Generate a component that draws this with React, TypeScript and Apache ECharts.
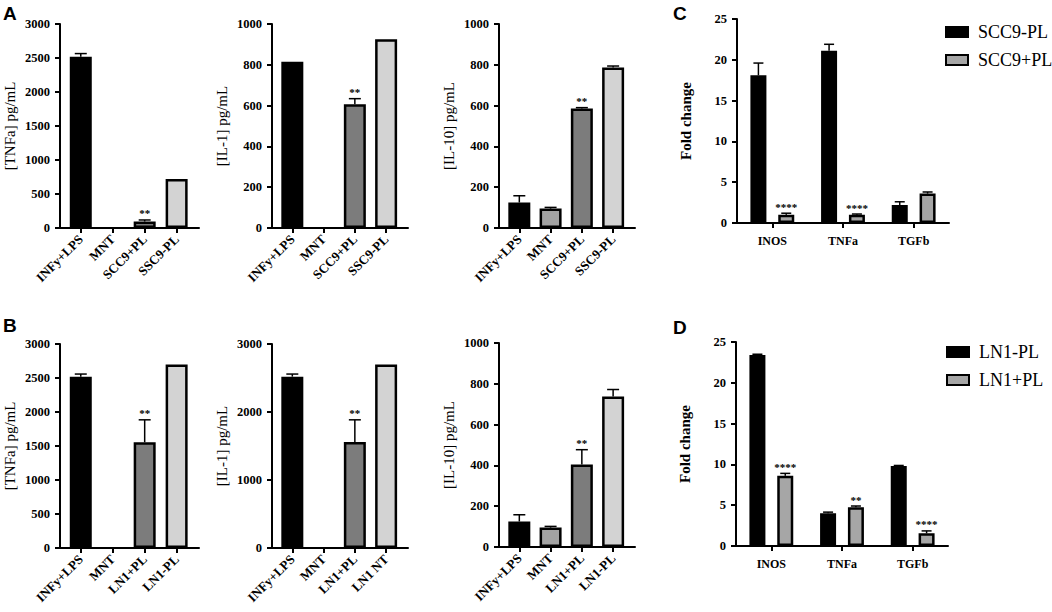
import React, { useEffect, useRef } from "react";
import * as echarts from "echarts";

// ---------- data ----------
const catsA = ["INFy+LPS", "MNT", "SCC9+PL", "SSC9-PL"];
const catsB1 = ["INFy+LPS", "MNT", "LN1+PL", "LN1-PL"];
const catsB2 = ["INFy+LPS", "MNT", "LN1+PL", "LN1 NT"];

const tnfA = [2520, 0, 95, 720];
const tnfAErr = [45, 0, 23, 0];
const il1A = [815, 0, 607, 925];
const il1AErr = [0, 0, 27, 0];
const il10A = [125, 95, 586, 787];
const il10AErr = [33, 6, 4, 7];

const tnfB = [2520, 0, 1555, 2700];
const tnfBErr = [38, 0, 330, 0];
const il1B = [2520, 0, 1560, 2700];
const il1BErr = [38, 0, 325, 0];
const il10B = [125, 95, 405, 738];
const il10BErr = [33, 6, 72, 34];

const sigSmall = ["", "", "**", ""];

const genes = ["INOS", "TNFa", "TGFb"];
const scc9Minus = [18.1, 21.1, 2.2];
const scc9MinusErr = [1.5, 0.8, 0.4];
const scc9Plus = [1.0, 1.0, 3.6];
const scc9PlusErr = [0.2, 0.1, 0.2];
const sigC = ["****", "****", ""];

const ln1Minus = [23.4, 4.0, 9.8];
const ln1MinusErr = [0.1, 0.15, 0.07];
const ln1Plus = [8.6, 4.75, 1.55];
const ln1PlusErr = [0.3, 0.15, 0.3];
const sigD = ["****", "**", "****"];

const yNames = ["[TNFa] pg/mL", "[IL-1] pg/mL", "[IL-10] pg/mL", "[TNFa] pg/mL", "[IL-1] pg/mL", "[IL-10] pg/mL"];
const yMax = [3000, 1000, 1000, 3000, 3000, 1000];
const yInterval = [500, 200, 200, 500, 1000, 200];

// ---------- styles ----------
const SERIF = "'Liberation Serif', 'Times New Roman', serif";
const SANS = "'Liberation Sans', Arial, sans-serif";
const smallColors = ["#000000", "#a3a3a3", "#7c7c7c", "#d3d3d3"];

const smallGrids = [
  { left: 60, top: 24, width: 139, height: 204 },
  { left: 272, top: 24, width: 136, height: 204 },
  { left: 499, top: 24, width: 136, height: 204 },
  { left: 60, top: 344, width: 139, height: 204 },
  { left: 272, top: 344, width: 136, height: 204 },
  { left: 499, top: 343, width: 136, height: 204 },
];
const bigGrids = [
  { left: 737, top: 19, width: 212, height: 204 },
  { left: 736, top: 342, width: 212, height: 204 },
];

const BAR_W = 16;
const BAR_GAP = 0.74;
const GROUP_OFF = (BAR_W + BAR_W * BAR_GAP) / 2;

function errRender(sig: string[], capHalf: number, dx: number) {
  return (params: any, api: any) => {
    const x = api.value(0);
    const y = api.value(1);
    const e = api.value(2);
    const base = api.coord([x, y]);
    const top = api.coord([x, y + e]);
    const cx = base[0] + dx;
    const children: any[] = [];
    if (e > 0) {
      children.push({
        type: "line",
        shape: { x1: cx, y1: base[1], x2: cx, y2: top[1] },
        style: { stroke: "#000", lineWidth: 1.5 },
      });
      children.push({
        type: "line",
        shape: { x1: cx - capHalf, y1: top[1], x2: cx + capHalf, y2: top[1] },
        style: { stroke: "#000", lineWidth: 1.5 },
      });
    }
    const s = sig[params.dataIndex];
    if (s) {
      children.push({
        type: "text",
        x: cx,
        y: top[1] - 1,
        style: {
          text: s,
          fill: "#000000",
          stroke: "none",
          lineWidth: 0,
          fontSize: 11,
          fontWeight: "bold",
          fontFamily: SERIF,
          align: "center",
          verticalAlign: "bottom",
        },
      });
    }
    return { type: "group", children };
  };
}

export default function App() {
  const ref = useRef<HTMLDivElement>(null);

  useEffect(() => {
    document.body.style.margin = "0";
    if (!ref.current) return;
    const chart = echarts.init(ref.current, null, { renderer: "svg" });

    const smallCats = [catsA, catsA, catsA, catsB1, catsB2, catsB1];
    const smallVals = [tnfA, il1A, il10A, tnfB, il1B, il10B];
    const smallErrs = [tnfAErr, il1AErr, il10AErr, tnfBErr, il1BErr, il10BErr];

    const grid: any[] = [...smallGrids, ...bigGrids];
    const xAxis: any[] = [];
    const yAxis: any[] = [];
    const series: any[] = [];

    const axisLineStyle = { color: "#000", width: 2 };
    const yLabel = {
      color: "#000",
      fontSize: 12.5,
      fontWeight: "bold",
      fontFamily: SERIF,
      margin: 10,
      formatter: (v: number) => String(v),
    };

    smallCats.forEach((cats, g) => {
      xAxis.push({
        type: "value",
        gridIndex: g,
        min: -0.65,
        max: 3.7,
        splitLine: { show: false },
        axisLine: { show: true, onZero: false, lineStyle: axisLineStyle },
        axisTick: { show: true, customValues: [0, 1, 2, 3], length: 5, lineStyle: { color: "#000", width: 2 } },
        axisLabel: {
          customValues: [0, 1, 2, 3],
          formatter: (v: number) => cats[Math.round(v)],
          rotate: 45,
          color: "#000",
          fontSize: 13,
          fontWeight: "bold",
          fontFamily: SERIF,
          margin: 9,
        },
      });
      yAxis.push({
        type: "value",
        gridIndex: g,
        min: 0,
        max: yMax[g],
        interval: yInterval[g],
        splitLine: { show: false },
        axisLine: { show: true, onZero: false, lineStyle: axisLineStyle },
        axisTick: { show: true, length: 5, lineStyle: { color: "#000", width: 2 } },
        axisLabel: yLabel,
        name: yNames[g],
        nameLocation: "middle",
        nameGap: 43,
        nameTextStyle: { color: "#000", fontSize: 15, fontFamily: SERIF },
      });
      series.push({
        type: "bar",
        xAxisIndex: g,
        yAxisIndex: g,
        barWidth: 22,
        data: smallVals[g].map((v, i) => ({
          value: [i, v],
          itemStyle: { color: smallColors[i], borderColor: "#000", borderWidth: v === 0 ? 0 : 2.5 },
        })),
      });
      series.push({
        type: "custom",
        xAxisIndex: g,
        yAxisIndex: g,
        z: 5,
        clip: false,
        itemStyle: { color: "#000" },
        renderItem: errRender(sigSmall, 6, 0),
        data: smallVals[g].map((v, i) => [i, v, smallErrs[g][i]]),
      });
    });

    const bigSets = [
      { names: ["SCC9-PL", "SCC9+PL"], neg: scc9Minus, negErr: scc9MinusErr, pos: scc9Plus, posErr: scc9PlusErr, sig: sigC },
      { names: ["LN1-PL", "LN1+PL"], neg: ln1Minus, negErr: ln1MinusErr, pos: ln1Plus, posErr: ln1PlusErr, sig: sigD },
    ];
    bigSets.forEach((set, k) => {
      const g = 6 + k;
      xAxis.push({
        type: "category",
        gridIndex: g,
        data: genes,
        axisLine: { show: true, onZero: false, lineStyle: axisLineStyle },
        axisTick: { show: true, alignWithLabel: true, length: 5, lineStyle: { color: "#000", width: 2 } },
        axisLabel: { color: "#000", fontSize: 12, fontWeight: "bold", fontFamily: SERIF, margin: 12 },
      });
      yAxis.push({
        type: "value",
        gridIndex: g,
        min: 0,
        max: 25,
        interval: 5,
        splitLine: { show: false },
        axisLine: { show: true, onZero: false, lineStyle: axisLineStyle },
        axisTick: { show: true, length: 5, lineStyle: { color: "#000", width: 2 } },
        axisLabel: yLabel,
        name: "Fold change",
        nameLocation: "middle",
        nameGap: 44,
        nameTextStyle: { color: "#000", fontSize: 15, fontWeight: "bold", fontFamily: SERIF },
      });
      series.push({
        type: "bar",
        name: set.names[0],
        xAxisIndex: g,
        yAxisIndex: g,
        barWidth: BAR_W,
        barGap: BAR_GAP * 100 + "%",
        itemStyle: { color: "#000", borderColor: "#000", borderWidth: 2 },
        data: set.neg,
      });
      series.push({
        type: "bar",
        name: set.names[1],
        xAxisIndex: g,
        yAxisIndex: g,
        barWidth: BAR_W,
        barGap: BAR_GAP * 100 + "%",
        itemStyle: { color: "#a6a6a6", borderColor: "#000", borderWidth: 2.5 },
        data: set.pos,
      });
      series.push({
        type: "custom",
        xAxisIndex: g,
        yAxisIndex: g,
        z: 5,
        clip: false,
        itemStyle: { color: "#000" },
        renderItem: errRender(["", "", ""], 5, -GROUP_OFF),
        data: set.neg.map((v, i) => [i, v, set.negErr[i]]),
      });
      series.push({
        type: "custom",
        xAxisIndex: g,
        yAxisIndex: g,
        z: 5,
        clip: false,
        itemStyle: { color: "#000" },
        renderItem: errRender(set.sig, 5, GROUP_OFF),
        data: set.pos.map((v, i) => [i, v, set.posErr[i]]),
      });
    });

    const legendCommon = {
      orient: "vertical",
      icon: "rect",
      itemWidth: 22,
      itemHeight: 10,
      itemGap: 10,
      padding: 0,
      textStyle: { color: "#000", fontSize: 18, fontFamily: SERIF, padding: [0, 0, 0, 5] },
    };

    const letter = (t: string, left: number, top: number) => ({
      text: t,
      left,
      top,
      padding: 0,
      textStyle: { color: "#000", fontSize: 19, fontWeight: "bold", fontFamily: SANS },
    });

    chart.setOption({
      animation: false,
      backgroundColor: "#fff",
      title: [letter("A", 3, 4), letter("B", 3, 316), letter("C", 673, 4), letter("D", 673, 318)],
      legend: [
        { ...legendCommon, data: ["SCC9-PL", "SCC9+PL"], left: 945, top: 23 },
        { ...legendCommon, data: ["LN1-PL", "LN1+PL"], left: 946, top: 343 },
      ],
      grid,
      xAxis,
      yAxis,
      series,
    });

    return () => chart.dispose();
  }, []);

  return <div ref={ref} style={{ width: 1052, height: 612 }} />;
}
